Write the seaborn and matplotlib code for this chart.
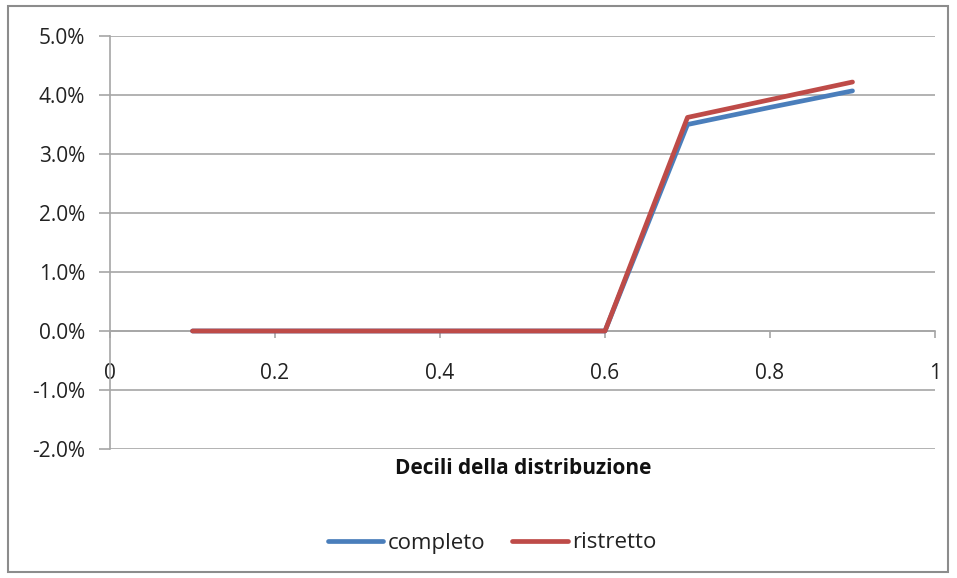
import matplotlib
matplotlib.use("Agg")
import matplotlib.pyplot as plt
import matplotlib.ticker as mticker
from matplotlib.patches import Rectangle
import numpy as np
import pandas as pd
import seaborn as sns

# Deciles and the two series (share, as fractions)
deciles = [0.1, 0.2, 0.3, 0.4, 0.5, 0.6, 0.7, 0.8, 0.9]
completo = [0.0, 0.0, 0.0, 0.0, 0.0, 0.0, 0.0350, 0.0379, 0.0407]
ristretto = [0.0, 0.0, 0.0, 0.0, 0.0, 0.0, 0.0362, 0.0392, 0.0422]
series_names = ["completo", "ristretto"]
series_colors = ["#4A7EBB", "#BE4B48"]
x_ticks = [0, 0.2, 0.4, 0.6, 0.8, 1]
x_tick_labels = ["0", "0.2", "0.4", "0.6", "0.8", "1"]
y_ticks = [-0.02, -0.01, 0.0, 0.01, 0.02, 0.03, 0.04, 0.05]

df = pd.concat([
    pd.DataFrame({"decile": deciles, "valore": completo, "serie": series_names[0]}),
    pd.DataFrame({"decile": deciles, "valore": ristretto, "serie": series_names[1]}),
])

sns.set_theme(style="white")
plt.rcParams["font.family"] = ["Open Sans", "DejaVu Sans"]

W, H = 957, 578
fig = plt.figure(figsize=(W / 100, H / 100), dpi=100)
ax = fig.add_axes([110 / W, 1 - 449 / H, (935 - 110) / W, (449 - 36) / H])

sns.lineplot(data=df, x="decile", y="valore", hue="serie",
             palette=dict(zip(series_names, series_colors)),
             linewidth=3.4, ax=ax, legend=False, sort=False, zorder=4)

ax.set_xlim(0, 1)
ax.set_ylim(-0.02, 0.05)
ax.set_yticks(y_ticks)
ax.yaxis.set_major_formatter(mticker.FuncFormatter(lambda v, p: f"{v * 100:.1f}%"))
ax.set_xticks(x_ticks)
ax.set_xticklabels(x_tick_labels)

# horizontal gridlines
for v in y_ticks:
    ax.axhline(v, color="#A6A6A6", lw=1.2, zorder=0)

for side in ["top", "right"]:
    ax.spines[side].set_visible(False)
ax.spines["left"].set_color("#A6A6A6")
ax.spines["left"].set_linewidth(1.2)

# x axis crosses at zero
ax.spines["bottom"].set_position(("data", 0))
ax.spines["bottom"].set_color("#A6A6A6")
ax.spines["bottom"].set_linewidth(1.2)
ax.spines["bottom"].set_zorder(1)
ax.spines["left"].set_zorder(1)

ax.tick_params(axis="y", which="major", direction="out", length=8, width=1.2,
               color="#A6A6A6", labelsize=15, labelcolor="#222222", pad=10)
ax.tick_params(axis="x", which="major", direction="out", length=5, width=1.2,
               color="#A6A6A6", labelsize=15, labelcolor="#222222", pad=18)
ax.tick_params(left=True, bottom=True)

ax.set_xlabel("")
ax.set_ylabel("")
fig.text(523 / W, 1 - 468 / H, "Decili della distribuzione",
         ha="center", va="center", fontsize=15, fontweight="bold", color="#111111")

handles = [plt.Line2D([], [], color=c, lw=3.4) for c in series_colors]
fig.legend(handles, series_names, loc="center", bbox_to_anchor=(492 / W, 1 - 543 / H),
           ncol=2, frameon=False, fontsize=16, handlelength=2.5, handletextpad=0.2,
           columnspacing=1.2, labelcolor="#222222")

# outer chart frame
fig.patches.append(Rectangle((8 / W, 1 - 572 / H), (948 - 8) / W, (572 - 6) / H,
                             transform=fig.transFigure, fill=False,
                             edgecolor="#8C8C8C", lw=1.5))

fig.savefig("out.png", dpi=100)
